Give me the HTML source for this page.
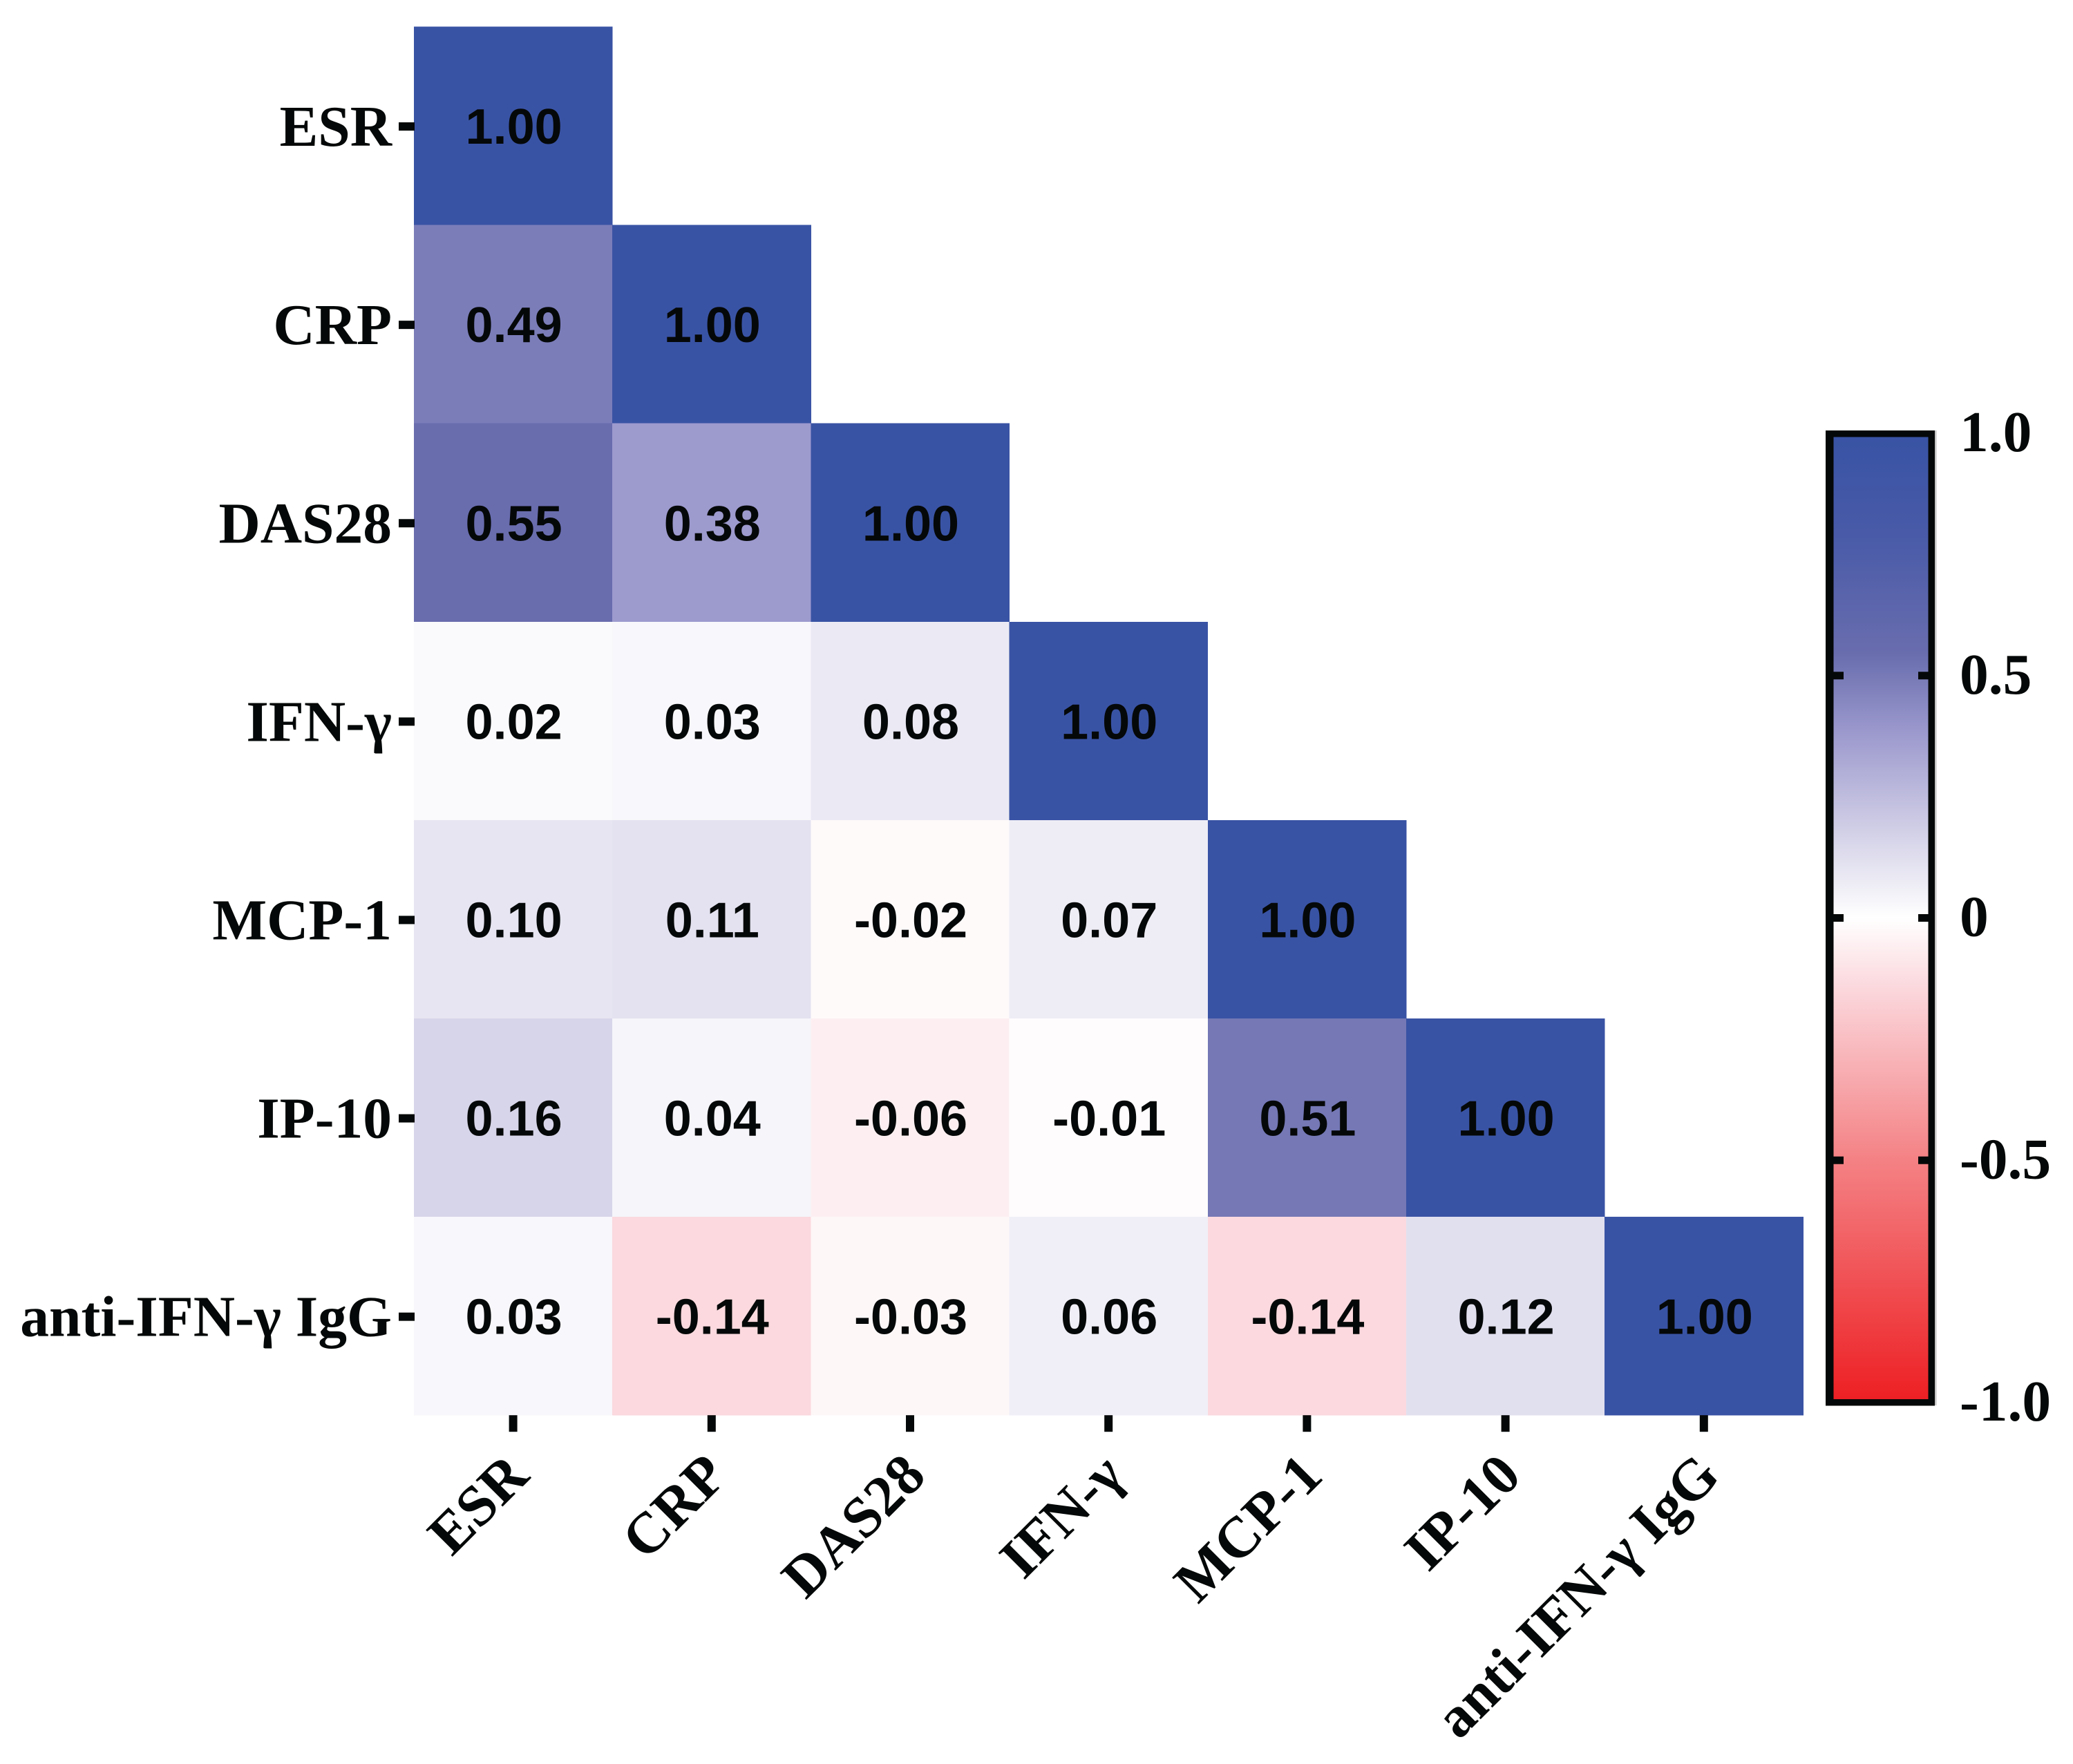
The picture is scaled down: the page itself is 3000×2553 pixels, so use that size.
<!DOCTYPE html>
<html lang="en">
<head>
<meta charset="utf-8">
<title>Correlation heatmap</title>
<style>
html,body{margin:0;padding:0;background:#fff;}
svg{display:block;}
.serif{font-family:"Liberation Serif",serif;font-weight:bold;fill:#050808;}
.sans{font-family:"Liberation Sans",sans-serif;font-weight:bold;fill:#050808;}
</style>
</head>
<body>
<svg id="chart" xmlns="http://www.w3.org/2000/svg" width="3000" height="2553" viewBox="0 0 3000 2553">
<rect x="0" y="0" width="3000" height="2553" fill="#ffffff"/>
<defs><linearGradient id="cbGrad" x1="0" y1="0" x2="0" y2="1"></linearGradient></defs>
<g id="cells"></g>
<g id="yaxis"></g>
<g id="xaxis"></g>
<g id="colorbar"></g>
</svg>
<script>
const categories = ["ESR", "CRP", "DAS28", "IFN-\u03B3", "MCP-1", "IP-10", "anti-IFN-\u03B3 IgG"];
const rowESR = [1.00];
const rowCRP = [0.49, 1.00];
const rowDAS28 = [0.55, 0.38, 1.00];
const rowIFN = [0.02, 0.03, 0.08, 1.00];
const rowMCP = [0.10, 0.11, -0.02, 0.07, 1.00];
const rowIP10 = [0.16, 0.04, -0.06, -0.01, 0.51, 1.00];
const rowAnti = [0.03, -0.14, -0.03, 0.06, -0.14, 0.12, 1.00];
const matrix = [rowESR, rowCRP, rowDAS28, rowIFN, rowMCP, rowIP10, rowAnti];
const colorbarTicks = [1.0, 0.5, 0, -0.5, -1.0];
const colorbarTickLabels = ["1.0", "0.5", "0", "-0.5", "-1.0"];

const NS = "http://www.w3.org/2000/svg";
const plotLeft = 599, plotTop = 38.5, cellW = 287.2, cellH = 287.1;
const cbTopY = 627, cbBottomY = 2030;

function xLeft(i){ return plotLeft + i * cellW; }
function yTop(i){ return plotTop + i * cellH; }
function xCenter(i){ return xLeft(i) + cellW / 2; }
function yCenter(i){ return yTop(i) + cellH / 2; }
function cbY(v){ return cbBottomY + (v + 1) / 2 * (cbTopY - cbBottomY); }

const colorStops = [
  [-1, 237, 32, 36], [-0.5, 244, 130, 133], [-0.14, 251, 217, 222], [0, 255, 255, 255],
  [0.16, 215, 213, 233], [0.38, 157, 154, 206], [0.49, 123, 125, 185],
  [0.55, 105, 109, 174], [0.8, 72, 90, 168], [1, 57, 83, 164]
];
function colorFor(v){
  const t = Math.max(-1, Math.min(1, v));
  for (let k = 0; k < colorStops.length - 1; k++) {
    const a = colorStops[k], b = colorStops[k + 1];
    if (t <= b[0]) {
      const f = (t - a[0]) / (b[0] - a[0]);
      return "rgb(" + [1, 2, 3].map(function (c) { return Math.round(a[c] + (b[c] - a[c]) * f); }).join(",") + ")";
    }
  }
  return "rgb(57,83,164)";
}
function make(tag, parent){
  const el = document.createElementNS(NS, tag);
  parent.appendChild(el);
  return el;
}

const cellsG = document.getElementById("cells");
matrix.forEach(function (row, r) {
  row.forEach(function (val, c) {
    const rect = make("rect", cellsG);
    
    
    rect.setAttribute("x", xLeft(c));
    rect.setAttribute("y", yTop(r));
    rect.setAttribute("width", cellW + 0.4);
    rect.setAttribute("height", cellH + 0.4);
    rect.setAttribute("fill", colorFor(val));
    rect.setAttribute("shape-rendering", "crispEdges");
    const label = make("text", cellsG);
    
    
    label.setAttribute("class", "sans");
    label.setAttribute("x", xCenter(c) + 1);
    label.setAttribute("y", yCenter(r) + 26);
    label.setAttribute("font-size", "72");
    label.setAttribute("text-anchor", "middle");
    label.textContent = val.toFixed(2);
  });
});

const yG = document.getElementById("yaxis");
categories.forEach(function (name, i) {
  const tick = make("rect", yG);
  
  
  tick.setAttribute("x", plotLeft - 22);
  tick.setAttribute("y", yCenter(i) + 1 - 6);
  tick.setAttribute("width", 23);
  tick.setAttribute("height", 12);
  tick.setAttribute("fill", "#050808");
  const label = make("text", yG);
  
  
  label.setAttribute("class", "serif");
  label.setAttribute("x", 567);
  label.setAttribute("y", yCenter(i) + 29);
  label.setAttribute("font-size", "83.5");
  label.setAttribute("text-anchor", "end");
  label.textContent = name;
});

const xG = document.getElementById("xaxis");
const xAxisY = plotTop + cellH * categories.length;
categories.forEach(function (name, i) {
  const tick = make("rect", xG);
  
  
  tick.setAttribute("x", xCenter(i) - 6);
  tick.setAttribute("y", xAxisY);
  tick.setAttribute("width", 12);
  tick.setAttribute("height", 24);
  tick.setAttribute("fill", "#050808");
  const label = make("text", xG);
  
  
  label.setAttribute("class", "serif");
  label.setAttribute("font-size", "83.5");
  label.setAttribute("text-anchor", "end");
  label.setAttribute("transform", "translate(" + (xCenter(i) + 26) + "," + (xAxisY + 91) + ") rotate(-45)");
  label.textContent = name;
});

const grad = document.getElementById("cbGrad");
colorStops.slice().reverse().forEach(function (s) {
  const stop = make("stop", grad);
  stop.setAttribute("offset", (1 - s[0]) / 2);
  stop.setAttribute("stop-color", colorFor(s[0]));
});

const cbG = document.getElementById("colorbar");
const cbShadow = make("rect", cbG);


cbShadow.setAttribute("x", 2800);
cbShadow.setAttribute("y", 623);
cbShadow.setAttribute("width", 2.5);
cbShadow.setAttribute("height", 1411);
cbShadow.setAttribute("fill", "#c4c4c4");
const cbRect = make("rect", cbG);


cbRect.setAttribute("x", 2653);
cbRect.setAttribute("y", 632);
cbRect.setAttribute("width", 138);
cbRect.setAttribute("height", 1393);
cbRect.setAttribute("fill", "url(#cbGrad)");
const cbBorder = make("path", cbG);


cbBorder.setAttribute("fill-rule", "evenodd");
cbBorder.setAttribute("fill", "#050808");
cbBorder.setAttribute("d", "M2642 623H2800V2034.5H2642Z M2653.5 632.5V2025H2790.5V632.5Z");

colorbarTicks.forEach(function (v, i) {
  if (v !== 1 && v !== -1) {
    const tl = make("rect", cbG);
    
    
    tl.setAttribute("x", 2653);
    tl.setAttribute("y", cbY(v) - 5.5);
    tl.setAttribute("width", 15);
    tl.setAttribute("height", 11);
    tl.setAttribute("fill", "#050808");
    const tr = make("rect", cbG);
    
    
    tr.setAttribute("x", 2776);
    tr.setAttribute("y", cbY(v) - 5.5);
    tr.setAttribute("width", 15);
    tr.setAttribute("height", 11);
    tr.setAttribute("fill", "#050808");
  }
  const label = make("text", cbG);
  
  
  label.setAttribute("class", "serif");
  label.setAttribute("x", 2836);
  label.setAttribute("y", cbY(v) + 26);
  label.setAttribute("font-size", "83.5");
  label.textContent = colorbarTickLabels[i];
});
</script>
</body>
</html>
